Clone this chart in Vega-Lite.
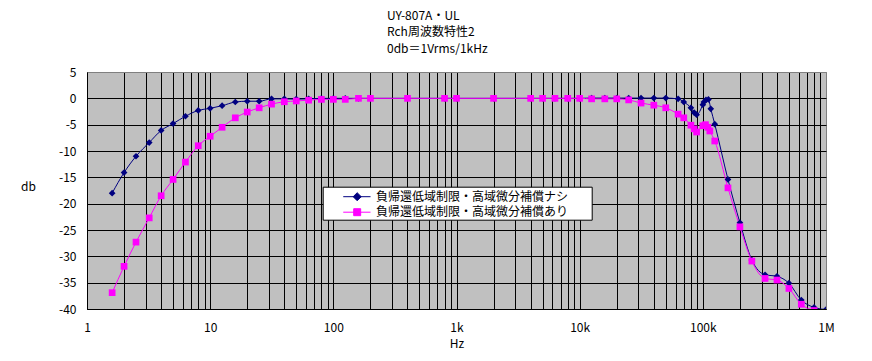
{
  "$schema": "https://vega.github.io/schema/vega-lite/v6.json",
  "width": 739,
  "height": 237,
  "autosize": {"type": "none"},
  "padding": {"left": 87, "top": 72, "right": 46, "bottom": 52},
  "background": "white",
  "title": {
    "text": ["UY-807A・UL", "Rch周波数特性2", "0db＝1Vrms/1kHz"],
    "anchor": "start",
    "frame": "group",
    "dx": 300,
    "offset": 10,
    "fontSize": 12,
    "fontWeight": "normal",
    "lineHeight": 16.7,
    "font": "Noto Sans CJK JP",
    "color": "black"
  },
  "config": {
    "font": "Noto Sans CJK JP",
    "view": {"stroke": "#808080", "fill": "#c0c0c0"}
  },
  "resolve": {"legend": {"color": "independent", "fill": "independent", "shape": "independent"}},
  "data": {
    "values": [
      {"s": "負帰還低域制限・高域微分補償ナシ", "f": 1.6, "db": -18.0},
      {"s": "負帰還低域制限・高域微分補償ナシ", "f": 2, "db": -14.1},
      {"s": "負帰還低域制限・高域微分補償ナシ", "f": 2.5, "db": -11.0},
      {"s": "負帰還低域制限・高域微分補償ナシ", "f": 3.2, "db": -8.4},
      {"s": "負帰還低域制限・高域微分補償ナシ", "f": 4, "db": -6.1},
      {"s": "負帰還低域制限・高域微分補償ナシ", "f": 5, "db": -4.8},
      {"s": "負帰還低域制限・高域微分補償ナシ", "f": 6.3, "db": -3.4},
      {"s": "負帰還低域制限・高域微分補償ナシ", "f": 8, "db": -2.3},
      {"s": "負帰還低域制限・高域微分補償ナシ", "f": 10, "db": -1.9},
      {"s": "負帰還低域制限・高域微分補償ナシ", "f": 12.5, "db": -1.4},
      {"s": "負帰還低域制限・高域微分補償ナシ", "f": 16, "db": -0.7},
      {"s": "負帰還低域制限・高域微分補償ナシ", "f": 20, "db": -0.55},
      {"s": "負帰還低域制限・高域微分補償ナシ", "f": 25, "db": -0.55},
      {"s": "負帰還低域制限・高域微分補償ナシ", "f": 31.5, "db": -0.1},
      {"s": "負帰還低域制限・高域微分補償ナシ", "f": 40, "db": -0.1},
      {"s": "負帰還低域制限・高域微分補償ナシ", "f": 50, "db": -0.15},
      {"s": "負帰還低域制限・高域微分補償ナシ", "f": 63, "db": -0.1},
      {"s": "負帰還低域制限・高域微分補償ナシ", "f": 80, "db": 0},
      {"s": "負帰還低域制限・高域微分補償ナシ", "f": 100, "db": 0},
      {"s": "負帰還低域制限・高域微分補償ナシ", "f": 125, "db": 0},
      {"s": "負帰還低域制限・高域微分補償ナシ", "f": 160, "db": 0},
      {"s": "負帰還低域制限・高域微分補償ナシ", "f": 200, "db": 0},
      {"s": "負帰還低域制限・高域微分補償ナシ", "f": 400, "db": 0},
      {"s": "負帰還低域制限・高域微分補償ナシ", "f": 800, "db": 0},
      {"s": "負帰還低域制限・高域微分補償ナシ", "f": 1000, "db": 0},
      {"s": "負帰還低域制限・高域微分補償ナシ", "f": 2000, "db": 0},
      {"s": "負帰還低域制限・高域微分補償ナシ", "f": 4000, "db": 0},
      {"s": "負帰還低域制限・高域微分補償ナシ", "f": 5000, "db": 0},
      {"s": "負帰還低域制限・高域微分補償ナシ", "f": 6300, "db": 0},
      {"s": "負帰還低域制限・高域微分補償ナシ", "f": 8000, "db": 0},
      {"s": "負帰還低域制限・高域微分補償ナシ", "f": 10000, "db": 0},
      {"s": "負帰還低域制限・高域微分補償ナシ", "f": 12500, "db": 0.05},
      {"s": "負帰還低域制限・高域微分補償ナシ", "f": 16000, "db": 0.05},
      {"s": "負帰還低域制限・高域微分補償ナシ", "f": 20000, "db": 0.05},
      {"s": "負帰還低域制限・高域微分補償ナシ", "f": 25000, "db": 0.05},
      {"s": "負帰還低域制限・高域微分補償ナシ", "f": 31500, "db": 0.05},
      {"s": "負帰還低域制限・高域微分補償ナシ", "f": 40000, "db": 0.05},
      {"s": "負帰還低域制限・高域微分補償ナシ", "f": 50000, "db": 0.05},
      {"s": "負帰還低域制限・高域微分補償ナシ", "f": 63000, "db": -0.1},
      {"s": "負帰還低域制限・高域微分補償ナシ", "f": 70000, "db": -0.7},
      {"s": "負帰還低域制限・高域微分補償ナシ", "f": 80000, "db": -1.8},
      {"s": "負帰還低域制限・高域微分補償ナシ", "f": 85000, "db": -2.7},
      {"s": "負帰還低域制限・高域微分補償ナシ", "f": 89000, "db": -3.1},
      {"s": "負帰還低域制限・高域微分補償ナシ", "f": 100000, "db": -1.2},
      {"s": "負帰還低域制限・高域微分補償ナシ", "f": 102000, "db": -0.7},
      {"s": "負帰還低域制限・高域微分補償ナシ", "f": 106000, "db": -0.3},
      {"s": "負帰還低域制限・高域微分補償ナシ", "f": 111000, "db": -0.2},
      {"s": "負帰還低域制限・高域微分補償ナシ", "f": 116000, "db": -2.0},
      {"s": "負帰還低域制限・高域微分補償ナシ", "f": 125000, "db": -4.9},
      {"s": "負帰還低域制限・高域微分補償ナシ", "f": 160000, "db": -15.4},
      {"s": "負帰還低域制限・高域微分補償ナシ", "f": 200000, "db": -23.6},
      {"s": "負帰還低域制限・高域微分補償ナシ", "f": 250000, "db": -30.7},
      {"s": "負帰還低域制限・高域微分補償ナシ", "f": 320000, "db": -33.5},
      {"s": "負帰還低域制限・高域微分補償ナシ", "f": 400000, "db": -33.8},
      {"s": "負帰還低域制限・高域微分補償ナシ", "f": 500000, "db": -35.1},
      {"s": "負帰還低域制限・高域微分補償ナシ", "f": 630000, "db": -38.3},
      {"s": "負帰還低域制限・高域微分補償ナシ", "f": 800000, "db": -39.7},
      {"s": "負帰還低域制限・高域微分補償ナシ", "f": 1000000, "db": -40.1},
      {"s": "負帰還低域制限・高域微分補償あり", "f": 1.6, "db": -36.9},
      {"s": "負帰還低域制限・高域微分補償あり", "f": 2, "db": -31.9},
      {"s": "負帰還低域制限・高域微分補償あり", "f": 2.5, "db": -27.3},
      {"s": "負帰還低域制限・高域微分補償あり", "f": 3.2, "db": -22.7},
      {"s": "負帰還低域制限・高域微分補償あり", "f": 4, "db": -18.5},
      {"s": "負帰還低域制限・高域微分補償あり", "f": 5, "db": -15.4},
      {"s": "負帰還低域制限・高域微分補償あり", "f": 6.3, "db": -12.1},
      {"s": "負帰還低域制限・高域微分補償あり", "f": 8, "db": -9.0},
      {"s": "負帰還低域制限・高域微分補償あり", "f": 10, "db": -7.2},
      {"s": "負帰還低域制限・高域微分補償あり", "f": 12.5, "db": -5.5},
      {"s": "負帰還低域制限・高域微分補償あり", "f": 16, "db": -3.7},
      {"s": "負帰還低域制限・高域微分補償あり", "f": 20, "db": -2.6},
      {"s": "負帰還低域制限・高域微分補償あり", "f": 25, "db": -1.8},
      {"s": "負帰還低域制限・高域微分補償あり", "f": 31.5, "db": -1.1},
      {"s": "負帰還低域制限・高域微分補償あり", "f": 40, "db": -0.65},
      {"s": "負帰還低域制限・高域微分補償あり", "f": 50, "db": -0.5},
      {"s": "負帰還低域制限・高域微分補償あり", "f": 63, "db": -0.35},
      {"s": "負帰還低域制限・高域微分補償あり", "f": 80, "db": -0.2},
      {"s": "負帰還低域制限・高域微分補償あり", "f": 100, "db": -0.2},
      {"s": "負帰還低域制限・高域微分補償あり", "f": 125, "db": -0.2},
      {"s": "負帰還低域制限・高域微分補償あり", "f": 160, "db": 0},
      {"s": "負帰還低域制限・高域微分補償あり", "f": 200, "db": 0},
      {"s": "負帰還低域制限・高域微分補償あり", "f": 400, "db": 0},
      {"s": "負帰還低域制限・高域微分補償あり", "f": 800, "db": 0},
      {"s": "負帰還低域制限・高域微分補償あり", "f": 1000, "db": 0},
      {"s": "負帰還低域制限・高域微分補償あり", "f": 2000, "db": 0},
      {"s": "負帰還低域制限・高域微分補償あり", "f": 4000, "db": 0},
      {"s": "負帰還低域制限・高域微分補償あり", "f": 5000, "db": 0},
      {"s": "負帰還低域制限・高域微分補償あり", "f": 6300, "db": 0},
      {"s": "負帰還低域制限・高域微分補償あり", "f": 8000, "db": 0},
      {"s": "負帰還低域制限・高域微分補償あり", "f": 10000, "db": 0},
      {"s": "負帰還低域制限・高域微分補償あり", "f": 12500, "db": -0.1},
      {"s": "負帰還低域制限・高域微分補償あり", "f": 16000, "db": -0.1},
      {"s": "負帰還低域制限・高域微分補償あり", "f": 20000, "db": -0.1},
      {"s": "負帰還低域制限・高域微分補償あり", "f": 25000, "db": -0.3},
      {"s": "負帰還低域制限・高域微分補償あり", "f": 31500, "db": -0.9},
      {"s": "負帰還低域制限・高域微分補償あり", "f": 40000, "db": -1.3},
      {"s": "負帰還低域制限・高域微分補償あり", "f": 50000, "db": -1.8},
      {"s": "負帰還低域制限・高域微分補償あり", "f": 63000, "db": -3.0},
      {"s": "負帰還低域制限・高域微分補償あり", "f": 70000, "db": -3.7},
      {"s": "負帰還低域制限・高域微分補償あり", "f": 80000, "db": -5.1},
      {"s": "負帰還低域制限・高域微分補償あり", "f": 85000, "db": -5.8},
      {"s": "負帰還低域制限・高域微分補償あり", "f": 89000, "db": -6.4},
      {"s": "負帰還低域制限・高域微分補償あり", "f": 100000, "db": -5.2},
      {"s": "負帰還低域制限・高域微分補償あり", "f": 105000, "db": -5.0},
      {"s": "負帰還低域制限・高域微分補償あり", "f": 110000, "db": -5.5},
      {"s": "負帰還低域制限・高域微分補償あり", "f": 114000, "db": -6.2},
      {"s": "負帰還低域制限・高域微分補償あり", "f": 125000, "db": -8.1},
      {"s": "負帰還低域制限・高域微分補償あり", "f": 160000, "db": -17.0},
      {"s": "負帰還低域制限・高域微分補償あり", "f": 200000, "db": -24.4},
      {"s": "負帰還低域制限・高域微分補償あり", "f": 250000, "db": -30.9},
      {"s": "負帰還低域制限・高域微分補償あり", "f": 320000, "db": -34.2},
      {"s": "負帰還低域制限・高域微分補償あり", "f": 400000, "db": -34.5},
      {"s": "負帰還低域制限・高域微分補償あり", "f": 500000, "db": -36.1},
      {"s": "負帰還低域制限・高域微分補償あり", "f": 630000, "db": -39.1},
      {"s": "負帰還低域制限・高域微分補償あり", "f": 800000, "db": -40.3}
    ]
  },
  "encoding": {
    "x": {
      "field": "f",
      "type": "quantitative",
      "scale": {"type": "log", "domain": [1, 1000000]},
      "axis": {
        "title": "Hz",
        "values": [1,2,3,4,5,6,7,8,9,10,20,30,40,50,60,70,80,90,100,200,300,400,500,600,700,800,900,1000,2000,3000,4000,5000,6000,7000,8000,9000,10000,20000,30000,40000,50000,60000,70000,80000,90000,100000,200000,300000,400000,500000,600000,700000,800000,900000,1000000],
        "labelExpr": "datum.value == 1 ? '1' : datum.value == 10 ? '10' : datum.value == 100 ? '100' : datum.value == 1000 ? '1k' : datum.value == 10000 ? '10k' : datum.value == 100000 ? '100k' : datum.value == 1000000 ? '1M' : ''",
        "grid": true,
        "gridColor": {"condition": {"test": "datum.value == 1000000", "value": "#808080"}, "value": "black"},
        "gridWidth": 1,
        "ticks": false,
        "domainColor": "black",
        "labelPadding": 13,
        "labelFontSize": 12,
        "labelColor": "black",
        "labelOverlap": false,
        "labelFlush": false,
        "titleFontSize": 12,
        "titleFontWeight": "normal",
        "titleColor": "black",
        "titleY": 34,
        "titleBaseline": "middle"
      }
    },
    "y": {
      "field": "db",
      "type": "quantitative",
      "scale": {"domain": [-40, 5], "nice": false, "zero": false},
      "axis": {
        "title": "db",
        "values": [-40, -35, -30, -25, -20, -15, -10, -5, 0, 5],
        "labelExpr": "datum.value < 0 ? '-' + (-datum.value) : '' + datum.value",
        "grid": true,
        "gridColor": {"condition": {"test": "datum.value == 5", "value": "#808080"}, "value": "black"},
        "gridWidth": 1,
        "ticks": false,
        "domainColor": "black",
        "labelPadding": 11,
        "labelFontSize": 12,
        "labelColor": "black",
        "labelOverlap": false,
        "labelFlush": false,
        "titleAngle": 0,
        "titleX": -59,
        "titleY": 114,
        "titleAlign": "center",
        "titleBaseline": "middle",
        "titleFontSize": 12,
        "titleFontWeight": "normal",
        "titleColor": "black"
      }
    }
  },
  "layer": [
    {
      "mark": {"type": "line", "interpolate": "monotone", "strokeWidth": 1, "clip": true},
      "encoding": {
        "color": {
          "field": "s",
          "type": "nominal",
          "scale": {"domain": ["負帰還低域制限・高域微分補償ナシ", "負帰還低域制限・高域微分補償あり"], "range": ["#000080", "#ff00ff"]},
          "legend": {
            "orient": "none",
            "legendX": 235.7,
            "legendY": 114.7,
            "title": null,
            "fillColor": "white",
            "strokeColor": "black",
            "padding": 1,
            "symbolSize": 289,
            "rowPadding": 0.5,
            "labelOffset": 34.3,
            "labelFontSize": 12,
            "labelFont": "Noto Sans CJK JP",
            "labelColor": "black",
            "labelLimit": 0,
            "symbolStrokeWidth": 1,
            "labelExpr": "datum.label + 'ㅤㅤ'",
            "encode": {
              "symbols": {
                "update": {
                  "shape": {"signal": "datum.value === '負帰還低域制限・高域微分補償ナシ' ? 'M1.24,0H4.45M2.88,-0.47L3.35,0L2.88,0.47L2.41,0Z' : 'M1.24,0H4.45M2.47,-0.41H3.29V0.41H2.47Z'"},
                  "fill": {"signal": "datum.value === '負帰還低域制限・高域微分補償ナシ' ? '#000080' : '#ff00ff'"},
                  "stroke": {"signal": "datum.value === '負帰還低域制限・高域微分補償ナシ' ? '#000080' : '#ff00ff'"},
                  "opacity": {"value": 1},
                  "fillOpacity": {"value": 1}
                }
              }
            }
          }
        }
      }
    },
    {
      "mark": {"type": "point", "filled": true, "opacity": 1, "clip": true, "strokeWidth": 0},
      "encoding": {
        "fill": {
          "field": "s",
          "type": "nominal",
          "scale": {"domain": ["負帰還低域制限・高域微分補償ナシ", "負帰還低域制限・高域微分補償あり"], "range": ["#000080", "#ff00ff"]},
          "legend": null
        },
        "shape": {
          "field": "s",
          "type": "nominal",
          "scale": {"domain": ["負帰還低域制限・高域微分補償ナシ", "負帰還低域制限・高域微分補償あり"], "range": ["diamond", "square"]},
          "legend": null
        },
        "size": {"value": 45}
      }
    }
  ]
}
